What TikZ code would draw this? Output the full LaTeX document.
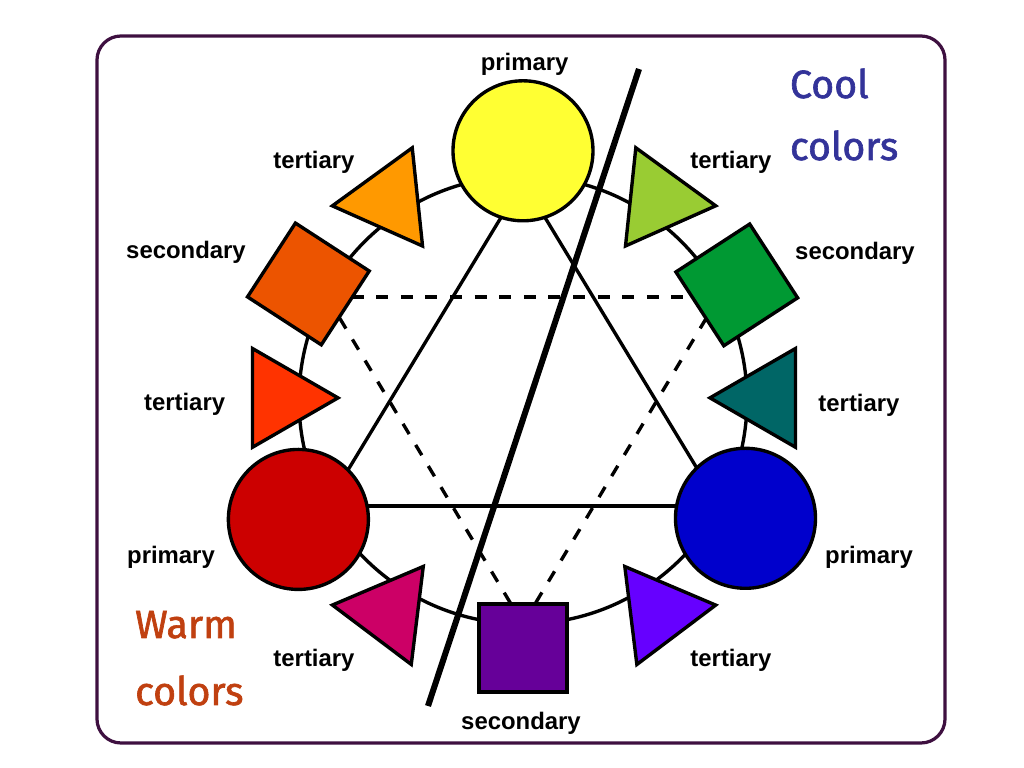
\documentclass[tikz,border=0pt]{standalone}
\usepackage{fontspec}
\setmainfont{Liberation Sans}
\newfontfamily\headfont[FakeBold=1.6]{Fira Sans}
\usetikzlibrary{shapes.geometric}
\definecolor{framecol}{RGB}{62,16,64}
\definecolor{coolcol}{RGB}{51,51,153}
\definecolor{warmcol}{RGB}{192,64,16}
\definecolor{c yellow}{RGB}{255,255,51}
\definecolor{c red}{RGB}{204,0,0}
\definecolor{c blue}{RGB}{0,0,204}
\definecolor{c orange}{RGB}{255,153,0}
\definecolor{c redorange}{RGB}{236,84,0}
\definecolor{c vermilion}{RGB}{255,51,0}
\definecolor{c magenta}{RGB}{204,0,102}
\definecolor{c purple}{RGB}{102,0,153}
\definecolor{c violet}{RGB}{102,0,255}
\definecolor{c lime}{RGB}{153,204,51}
\definecolor{c green}{RGB}{0,153,51}
\definecolor{c teal}{RGB}{0,102,102}
\tikzset{W node/.style={draw,line width=2.4pt,inner sep=0pt},
	P node/.style={W node,circle,minimum size=3.5cm},
	S node/.style={W node,rectangle,minimum size=2.2cm},
	T node/.style={W node,regular polygon,regular polygon sides=3,minimum size=2.85cm},
	L node/.style={font=\bfseries\fontsize{17}{20}\selectfont},
	H node/.style={font=\headfont\fontsize{28}{33}\selectfont,anchor=base west},}

\begin{document}
\begin{tikzpicture}
			\useasboundingbox (-13.075,-9.2) rectangle (12.525,10);
			\draw[framecol, line width=2.3pt, rounded corners=0.6cm] (-10.65,-8.575) rectangle (10.55,9.1);

			% colour wheel ring and the two triangles
			\draw[line width=2.4pt] (0,0) circle (5.6);

			\coordinate (a1) at (0,5.47);
			\coordinate (a2) at (-4.92,-2.65);
			\coordinate (a3) at (4.92,-2.65);
			\coordinate (b1) at (-4.9,2.575);
			\coordinate (b2) at (4.9,2.575);
			\coordinate (b3) at (0,-5.6);

			\path[draw, line width=2.4pt]
				(a1) edge (a2)
				(a2) edge (a3)
				(a3) edge (a1);
			\path[draw, line width=2.4pt, dash pattern=on 8.5pt off 9pt]
				(b1) edge (b2)
				(b2) edge (b3)
				(b3) edge (b1);

			% primaries
			\node[P node, fill=c yellow] (p1) at ({6.23*cos(90)}, {6.23*sin(90)}) {};
			\node[P node, fill=c red] (p2) at ({6.36*cos(208)}, {6.36*sin(208)}) {};
			\node[P node, fill=c blue] (p3) at ({6.3*cos(332)}, {6.3*sin(332)}) {};

			% secondaries
			\node[S node, fill=c redorange, rotate=-33] (s1) at ({6.1*cos(151.6)}, {6.1*sin(151.6)}) {};
			\node[S node, fill=c green, rotate=33] (s2) at ({6.07*cos(28.3)}, {6.07*sin(28.3)}) {};
			\node[S node, fill=c purple] (s3) at ({6.2*cos(270)}, {6.2*sin(270)}) {};

			% tertiaries
			\node[T node, fill=c orange, rotate=96] (t1) at ({6.02*cos(123.8)}, {6.02*sin(123.8)}) {};
			\node[T node, fill=c vermilion, rotate=-90] (t2) at ({6.05*cos(179.5)}, {6.05*sin(179.5)}) {};
			\node[T node, fill=c magenta, rotate=83] (t3) at ({6.27*cos(237.7)}, {6.27*sin(237.7)}) {};
			\node[T node, fill=c lime, rotate=-96] (t4) at ({6.05*cos(55.8)}, {6.05*sin(55.8)}) {};
			\node[T node, fill=c teal, rotate=90] (t5) at ({6.1*cos(0.5)}, {6.1*sin(0.5)}) {};
			\node[T node, fill=c violet, rotate=-83] (t6) at ({6.3*cos(302.7)}, {6.3*sin(302.7)}) {};

			% labels
			\node[L node] (lp1) at (0.04, 8.4) {primary};
			\node[L node] (lp2) at (-8.8, -3.94) {primary};
			\node[L node] (lp3) at (8.65, -3.94) {primary};
			\node[L node] (ls1) at (-8.425, 3.69) {secondary};
			\node[L node] (ls2) at (8.3, 3.67) {secondary};
			\node[L node] (ls3) at (-0.05, -8.075) {secondary};
			\node[L node] (lt1) at (-5.225, 5.94) {tertiary};
			\node[L node] (lt2) at (-8.46, -0.1) {tertiary};
			\node[L node] (lt3) at (-5.225, -6.5) {tertiary};
			\node[L node] (lt4) at (5.2, 5.95) {tertiary};
			\node[L node] (lt5) at (8.4, -0.125) {tertiary};
			\node[L node] (lt6) at (5.2, -6.5) {tertiary};

			% warm / cool split
			\coordinate (d1) at (2.9, 8.275);
			\coordinate (d2) at (-2.375, -7.65);
			\path[draw, line width=4.3pt] (d1) edge (d2);

			\node[H node, coolcol] (cool1) at (6.55, 7.55) {Cool};
			\node[H node, coolcol] (cool2) at (6.55, 6.0) {colors};
			\node[H node, warmcol] (warm1) at (-9.82, -5.95) {Warm};
			\node[H node, warmcol] (warm2) at (-9.82, -7.625) {colors};
		\end{tikzpicture}
\end{document}
